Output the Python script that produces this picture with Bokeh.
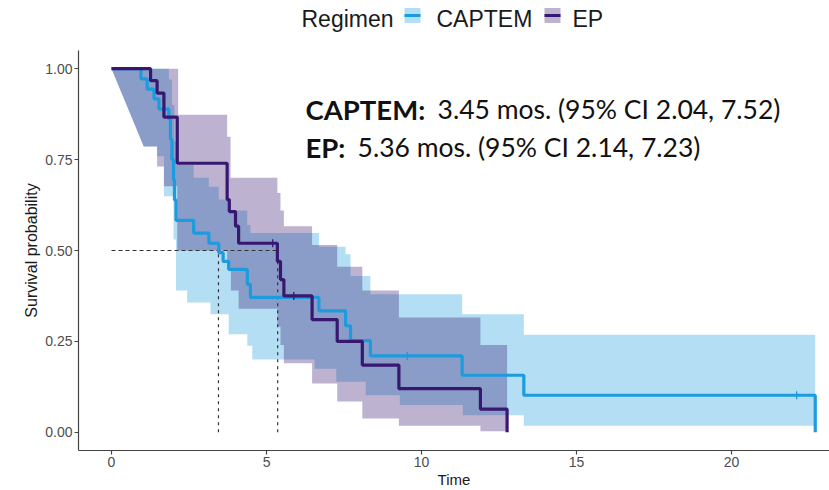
from bokeh.plotting import figure
from bokeh.layouts import column
from bokeh.models import Label, FixedTicker, NumeralTickFormatter, Range1d
from bokeh.core.properties import value
from bokeh.embed import file_html
from bokeh.resources import INLINE

# ---------------- data ----------------
groups = ["CAPTEM", "EP"]
medians = [3.45, 5.36]

cap_time = [0, 0.95, 1.15, 1.37, 1.53, 1.85, 1.9, 1.95, 2.0, 2.03, 2.08, 2.65,
            3.14, 3.46, 3.6, 3.78, 4.38, 4.48, 6.69, 7.55, 7.71, 8.35, 11.31,
            13.3, 22.7]
cap_surv = [1.0, 0.972, 0.944, 0.917, 0.889, 0.861, 0.806, 0.75, 0.694, 0.639,
            0.583, 0.548, 0.52, 0.494, 0.47, 0.448, 0.407, 0.371, 0.334, 0.293,
            0.252, 0.21, 0.157, 0.102, 0.0]
cap_upper_t = [0, 1.85, 1.95, 2.03, 2.08, 2.65, 3.14, 3.46, 3.78, 4.38, 4.48,
               6.69, 7.55, 7.71, 8.35, 11.31, 13.3]
cap_upper = [1.0, 0.97, 0.9, 0.8, 0.735, 0.70, 0.675, 0.64, 0.61, 0.57, 0.548,
             0.51, 0.49, 0.43, 0.38, 0.325, 0.268]
cap_lower_t = [1.04, 1.47, 1.69, 2.0, 2.08, 2.44, 3.19, 3.78, 4.38, 4.54, 6.55,
               7.25, 8.2, 9.3, 11.33, 13.3]
cap_lower = [0.786, 0.759, 0.649, 0.53, 0.39, 0.357, 0.325, 0.27, 0.238, 0.2,
             0.175, 0.139, 0.102, 0.075, 0.047, 0.018]
cap_cens_t = [9.54, 22.1]
cap_cens_s = [0.21, 0.102]

ep_time = [0, 1.26, 1.47, 1.69, 2.12, 3.73, 3.8, 4.0, 4.1, 5.35, 5.45, 5.56,
           6.47, 7.28, 8.09, 9.27, 11.9, 12.76]
ep_surv = [1.0, 0.967, 0.933, 0.867, 0.74, 0.64, 0.607, 0.567, 0.52, 0.47, 0.42,
           0.375, 0.31, 0.25, 0.185, 0.12, 0.064, 0.0]
ep_upper_t = [0, 2.15, 3.73, 3.84, 5.35, 5.45, 5.56, 6.47, 7.28, 8.09, 9.27, 11.9]
ep_upper = [1.0, 0.873, 0.813, 0.70, 0.658, 0.61, 0.567, 0.515, 0.455, 0.39,
            0.316, 0.24]
ep_lower_t = [1.04, 1.47, 1.69, 2.12, 3.73, 3.85, 4.1, 5.35, 5.45, 5.56, 6.47,
              7.28, 8.09, 9.27, 11.9]
ep_lower = [0.786, 0.731, 0.677, 0.50, 0.45, 0.39, 0.34, 0.29, 0.24, 0.19,
            0.134, 0.085, 0.038, 0.018, 0.003]
ep_cens_t = [5.2, 5.88]
ep_cens_s = [0.52, 0.375]

x_ticks = [0, 5, 10, 15, 20]
y_ticks = [0.0, 0.25, 0.5, 0.75, 1.0]

cap_color = "#1C9BDE"
ep_color = "#37176F"
colors = [cap_color, ep_color]

# ---------------- helpers ----------------
def stepped(t, v, t_end):
    xs, ys = [], []
    for i in range(len(t)):
        nxt = t[i + 1] if i + 1 < len(t) else t_end
        xs += [t[i], nxt]
        ys += [v[i], v[i]]
    return xs, ys

def band(ut, uv, lt, lv, t_end):
    ux, uy = stepped(ut, uv, t_end)
    lx, ly = stepped(lt, lv, t_end)
    return ux + lx[::-1], uy + ly[::-1]

# ---------------- legend strip (top) ----------------
# its frame is aligned with the main frame (pixels 78..829), so the x range
# is given in page pixels
lg = figure(width=829, height=50, output_backend="svg", toolbar_location=None,
            x_range=Range1d(78, 829), y_range=Range1d(50, 0),
            x_axis_type=None, y_axis_type=None,
            min_border_left=78, min_border_right=0, min_border_top=0,
            min_border_bottom=0)
lg.outline_line_color = None
lg.xgrid.visible = False
lg.ygrid.visible = False
lg.text(x=[301], y=[18], text=["Regimen"], text_font=value("Liberation Sans"),
        text_font_size=value("23px"), text_color="#1a1a1a",
        text_baseline="middle", text_align="left")
sw_left = [404, 544]
lg.rect(x=[s + 8 for s in sw_left], y=[15, 15], width=16, height=15,
        fill_color=colors, fill_alpha=0.33, line_alpha=0)
lg.segment(x0=sw_left, x1=[s + 16 for s in sw_left], y0=[15, 15], y1=[15, 15],
           line_color=colors, line_width=3)
lg.text(x=[436, 572], y=[18, 18], text=groups, text_font=value("Liberation Sans"),
        text_font_size=value("23px"), text_color="#1a1a1a",
        text_baseline="middle", text_align="left")

# ---------------- main figure ----------------
p = figure(width=829, height=440, output_backend="svg", toolbar_location=None,
           x_range=Range1d(-1.065, 23.16), y_range=Range1d(-0.05, 1.05),
           min_border_left=78, min_border_right=0, min_border_top=0,
           min_border_bottom=38)
p.outline_line_color = None
p.xgrid.visible = False
p.ygrid.visible = False

bx, by = band(cap_upper_t, cap_upper, cap_lower_t, cap_lower, cap_time[-1])
p.patch(bx, by, fill_color=cap_color, fill_alpha=0.33, line_alpha=0)
bx, by = band(ep_upper_t, ep_upper, ep_lower_t, ep_lower, ep_time[-1])
p.patch(bx, by, fill_color=ep_color, fill_alpha=0.33, line_alpha=0)

# median lines
p.line([0, max(medians)], [0.5, 0.5], line_color="#333333", line_width=1.2,
       line_dash="4 3")
for m in medians:
    p.line([m, m], [0, 0.5], line_color="#333333", line_width=1.2,
           line_dash="3 4")

p.step(cap_time, cap_surv, mode="after", line_color=cap_color, line_width=3.2)
p.step(ep_time, ep_surv, mode="after", line_color=ep_color, line_width=3.2)
p.scatter(cap_cens_t, cap_cens_s, marker="cross", size=8, line_width=1.3,
          color=cap_color)
p.scatter(ep_cens_t, ep_cens_s, marker="cross", size=8, line_width=1.3,
          color=ep_color)

for ax in (p.xaxis[0], p.yaxis[0]):
    ax.axis_line_color = "#444444"
    ax.axis_line_width = 1.2
    ax.major_tick_line_color = "#444444"
    ax.major_tick_line_width = 1.2
    ax.major_tick_out = 4
    ax.major_tick_in = 0
    ax.minor_tick_line_color = None
    ax.major_label_text_font = "Liberation Sans"
    ax.major_label_text_font_size = "14px"
    ax.major_label_text_color = "#4d4d4d"
    ax.major_label_standoff = 2
    ax.axis_label_text_font = "Liberation Sans"
    ax.axis_label_text_font_style = "normal"
    ax.axis_label_text_color = "#1a1a1a"
p.xaxis.axis_label_text_font_size = "15px"
p.yaxis.axis_label_text_font_size = "16px"
p.xaxis.ticker = FixedTicker(ticks=x_ticks)
p.yaxis.ticker = FixedTicker(ticks=y_ticks)
p.yaxis.formatter = NumeralTickFormatter(format="0.00")
p.xaxis.axis_label = "Time"
p.yaxis.axis_label = "Survival probability"
p.xaxis.axis_label_standoff = 1
p.yaxis.axis_label_standoff = 2

# annotation (positions given in pixels of the main figure)
def px_to_t(px):
    return (px - 111) / 31.0

def py_to_s(py):
    return (383.7 - py) / 365.45

ann_font = "Lato"
lines = [("CAPTEM:", "3.45 mos. (95% CI 2.04, 7.52)", 59, 437),
         ("EP:", "5.36 mos. (95% CI 2.14, 7.23)", 97, 357)]
for bold, rest, base, rx in lines:
    p.add_layout(Label(x=px_to_t(305), y=py_to_s(base), text=bold,
                       text_font=ann_font, text_font_size="27.5px",
                       text_font_style="bold", text_color="#111111",
                       text_baseline="alphabetic", text_align="left"))
    p.add_layout(Label(x=px_to_t(rx), y=py_to_s(base), text=rest,
                       text_font=ann_font, text_font_size="26.5px",
                       text_color="#111111", text_baseline="alphabetic",
                       text_align="left"))

layout = column(lg, p, spacing=0)
open("out.html", "w").write(file_html(layout, INLINE))
